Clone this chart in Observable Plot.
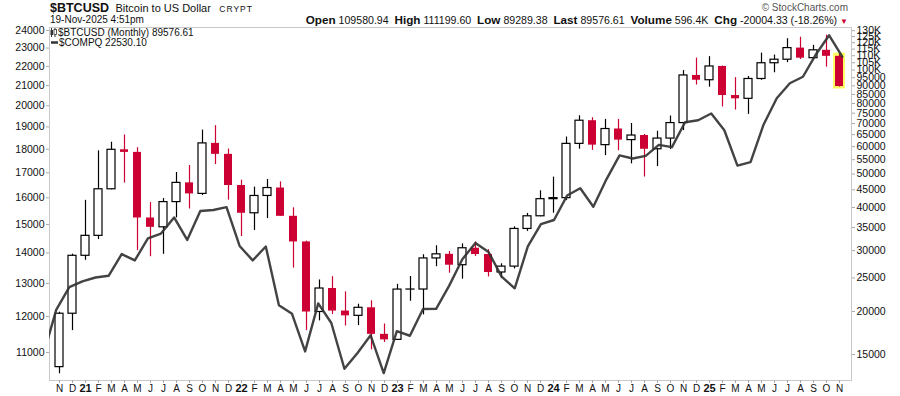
<!DOCTYPE html>
<html>
<head>
<meta charset="utf-8">
<script src="https://cdn.jsdelivr.net/npm/d3@7"></script>
<script src="https://cdn.jsdelivr.net/npm/@observablehq/plot@0.6"></script>
<style>
  html, body { margin: 0; padding: 0; background: #fff; }
  #wrap { position: relative; width: 900px; height: 396px; overflow: hidden; font-family: "Liberation Sans", Arial, sans-serif; color: #111; }
  .layer { position: absolute; left: 0; top: 0; }
  .abs { position: absolute; white-space: nowrap; }
</style>
</head>
<body>
<div id="wrap">
  <div id="p1" class="layer"></div>
  <div id="p2" class="layer"></div>
  <div class="abs" style="left:50px;top:0px;line-height:14px;">
    <span style="font-weight:bold;font-size:12.5px;">$BTCUSD</span>
    <span style="font-size:11px;margin-left:2px;">Bitcoin to US Dollar</span>
    <span style="font-size:8.5px;letter-spacing:1px;margin-left:4px;">CRYPT</span>
  </div>
  <div class="abs" style="left:50px;top:14px;font-size:10px;line-height:12px;">19-Nov-2025 4:51pm</div>
  <div class="abs" style="right:52px;top:2px;font-size:10px;line-height:11px;color:#555;">© StockCharts.com</div>
  <div class="abs" id="quote" style="right:52px;top:14px;font-size:10.6px;line-height:12px;"></div>
  <div class="abs" style="left:50px;top:27px;font-size:10px;line-height:11px;">
    <svg width="7" height="9" style="vertical-align:-1px;margin-right:1px"><line x1="1.5" y1="0" x2="1.5" y2="9" stroke="#333"/><rect x="0.5" y="2" width="2.5" height="5" fill="#333"/><line x1="5" y1="0" x2="5" y2="9" stroke="#333"/><rect x="4" y="1.5" width="2.5" height="5" fill="#fff" stroke="#333" stroke-width="0.8"/></svg>$BTCUSD (Monthly) 89576.61
  </div>
  <div class="abs" style="left:50px;top:37px;font-size:10px;line-height:11px;">
    <svg width="8" height="9" style="vertical-align:-1px;margin-right:1px"><line x1="1" y1="4.5" x2="8" y2="4.5" stroke="#333" stroke-width="2.5"/></svg>$COMPQ 22530.10
  </div>
</div>
<script>
// ---- Data ----
const xLabels = ["N","D",
  "21","F","M","A","M","J","J","A","S","O","N","D",
  "22","F","M","A","M","J","J","A","S","O","N","D",
  "23","F","M","A","M","J","J","A","S","O","N","D",
  "24","F","M","A","M","J","J","A","S","O","N","D",
  "25","F","M","A","M","J","J","A","S","O","N"];

const btcOpen = [13797, 19698,
  28984, 33109, 45159, 58763, 57750, 37293, 35045, 41461, 47131, 43791, 61318, 57005,
  46306, 38483, 43194, 45539, 37714, 31792, 19926, 23303, 20050, 19423, 20491, 17168,
  16548, 23139, 23147, 28478, 29268, 27219, 30477, 29231, 25931, 26968, 34668, 37718,
  42280, 42570, 61130, 71334, 60610, 67490, 62678, 64626, 58969, 63330, 70216, 96450,
  93429, 102412, 84373, 82548, 94216, 104638, 107135, 115758, 108236, 114057, 109581];
const btcHigh = [19900, 29300,
  41950, 58350, 61800, 64860, 59590, 41330, 42450, 50500, 52920, 67000, 69000, 59050,
  47990, 45820, 48190, 47440, 39900, 31960, 24670, 25210, 22790, 20990, 21470, 18390,
  23960, 25250, 29190, 30990, 29820, 31390, 31800, 30190, 27480, 35150, 38440, 44700,
  48970, 63970, 73750, 72760, 71960, 71950, 70020, 65100, 66500, 73620, 99650, 108270,
  109350, 102750, 95080, 95770, 111970, 110530, 123220, 124460, 117900, 126200, 111199.6];
const btcLow = [13200, 17600,
  28130, 32300, 45000, 47050, 30000, 28800, 29280, 37330, 39600, 43300, 53250, 42000,
  32950, 34320, 37150, 37700, 26700, 17600, 18780, 19600, 18150, 18200, 15480, 16260,
  16500, 21400, 19550, 26950, 25810, 24800, 28860, 25170, 24900, 26550, 34100, 37600,
  38500, 41880, 59000, 58500, 56550, 58400, 53500, 49000, 52550, 58900, 66800, 90500,
  89200, 78200, 76600, 74400, 93400, 98200, 105100, 107300, 107300, 102000, 89289.38];
const btcClose = [19698, 28984,
  33109, 45159, 58763, 57750, 37293, 35045, 41461, 47131, 43791, 61318, 57005, 46306,
  38483, 43194, 45539, 37714, 31792, 19926, 23303, 20050, 19423, 20491, 17168, 16548,
  23139, 23147, 28478, 29268, 27219, 30477, 29231, 25931, 26968, 34668, 37718, 42280,
  42570, 61130, 71334, 60610, 67490, 62678, 64626, 58969, 63330, 70216, 96450, 93429,
  102412, 84373, 82548, 94216, 104638, 107135, 115758, 108236, 114057, 109581, 89576.61];

// COMPQ monthly closes, Oct 2020 .. Nov 2025 (first value sits one month before the chart start)
const compq = [10911,
  12198, 12888,
  13070, 13192, 13247, 13962, 13749, 14504, 14673, 15259, 14448, 15498, 15538, 15645,
  14240, 13751, 14221, 12335, 12081, 11029, 12391, 11816, 10576, 10988, 11468, 10466,
  11585, 11456, 12222, 12227, 12935, 13788, 14346, 14035, 13219, 12851, 14226, 15011,
  15164, 16092, 16379, 15658, 16735, 17733, 17599, 17714, 18189, 18095, 19218, 19311,
  19627, 18847, 17299, 17446, 19114, 20370, 21122, 21456, 22660, 23725, 22530.10];

const rightTicks = [15000, 20000, 25000, 30000, 35000, 40000, 45000, 50000, 55000, 60000, 65000,
  70000, 75000, 80000, 85000, 90000, 95000, 100000, 105000, 110000, 115000, 120000, 125000, 130000];
const leftTicks = [11000, 12000, 13000, 14000, 15000, 16000, 17000, 18000, 19000, 20000, 21000, 22000, 23000, 24000];

const quoteFields = [["Open", "109580.94"], ["High", "111199.60"], ["Low", "89289.38"], ["Last", "89576.61"], ["Volume", "596.4K"], ["Chg", "-20004.33 (-18.26%)"]];

// ---- Build tables ----
const candles = btcOpen.map((o, i) => ({i, open: o, high: btcHigh[i], low: btcLow[i], close: btcClose[i], up: btcClose[i] >= o}));
const ups = candles.filter(d => d.up);
const downs = candles.filter(d => !d.up);
const lastCandle = [candles[candles.length - 1]];
const compqData = compq.map((v, k) => ({i: k - 1, v}));

const W = 900, H = 396;
const M = {top: 27, right: 49, bottom: 16, left: 49};
const bandRange = [49.15, 848.3];
const n = xLabels.length;
const step = (bandRange[1] - bandRange[0]) / n;
const c0 = bandRange[0] + step / 2;
const xLin = [(M.left - c0) / step, (W - M.right - c0) / step];
const RED = "#cc0033";
const font = "'Liberation Sans', Arial, sans-serif";

const p1 = Plot.plot({
  width: W, height: H,
  marginTop: M.top, marginRight: M.right, marginBottom: M.bottom, marginLeft: M.left,
  style: {fontFamily: font, fontSize: "10.5px", color: "#111", background: "white"},
  x: {type: "band", domain: d3.range(n), range: bandRange, paddingInner: 0.39, paddingOuter: 0.195, label: null},
  y: {type: "log", domain: [12620, 132800], label: null},
  marks: [
    Plot.frame({stroke: "#c8c8c8"}),
    Plot.axisX({tickSize: 3, tickPadding: 1, stroke: "#aaa", fill: "#111", tickFormat: i => xLabels[i], fontSize: 10, label: null}),
    Plot.axisY({anchor: "right", ticks: rightTicks, tickSize: 3, tickPadding: 2, stroke: "#aaa", fill: "#111", label: null,
      tickFormat: d => d >= 100000 ? (d / 1000) + "K" : String(d)}),
    Plot.barY(lastCandle, {x: "i", y1: "low", y2: "high", fill: "#ffff66", insetLeft: -2, insetRight: -2, insetTop: -1, insetBottom: -2}),
    Plot.ruleX(ups, {x: "i", y1: "low", y2: "high", stroke: "#000", strokeWidth: 1.2}),
    Plot.ruleX(downs, {x: "i", y1: "low", y2: "high", stroke: RED, strokeWidth: 1.2}),
    Plot.barY(ups, {x: "i", y1: "open", y2: "close", fill: "white", stroke: "#000", strokeWidth: 1.2}),
    Plot.barY(downs, {x: "i", y1: "open", y2: "close", fill: RED})
  ]
});
document.getElementById("p1").append(p1);

// bold year labels
p1.querySelectorAll("text").forEach(t => {
  if (/^\d\d$/.test(t.textContent.trim())) {
    t.setAttribute("font-weight", "bold");
    t.setAttribute("font-size", "11");
  }
});

const p2 = Plot.plot({
  width: W, height: H,
  marginTop: M.top, marginRight: M.right, marginBottom: M.bottom, marginLeft: M.left,
  style: {fontFamily: font, fontSize: "10.5px", color: "#111", background: "transparent"},
  x: {type: "linear", domain: xLin, axis: null, label: null},
  y: {type: "log", domain: [10279, 24175], label: null},
  marks: [
    Plot.axisY({anchor: "left", ticks: leftTicks, tickSize: 3, tickPadding: 2, stroke: "#aaa", fill: "#111", label: null, tickFormat: d => String(d)}),
    Plot.line(compqData, {x: "i", y: "v", stroke: "#333", strokeWidth: 2.4, strokeOpacity: 0.92, clip: true})
  ]
});
document.getElementById("p2").append(p2);

// quote line
const q = document.getElementById("quote");
q.innerHTML = quoteFields.map(([k, v]) => `<b style="font-size:11.7px">${k}</b> ${v}`).join("&nbsp; ")
  + ` <span style="color:${RED};font-size:8px;">▼</span>`;
</script>
</body>
</html>
